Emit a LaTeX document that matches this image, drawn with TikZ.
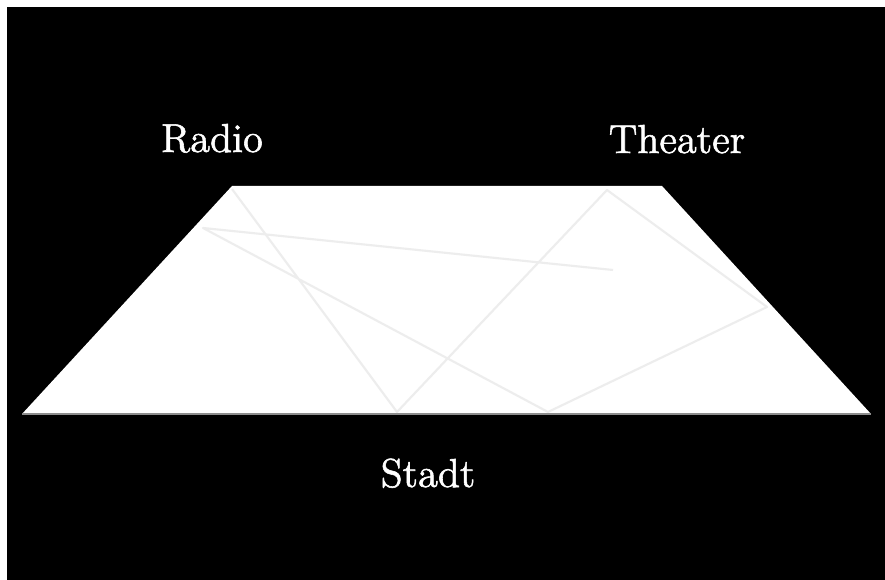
\documentclass[tikz,border=0pt]{standalone}
\usepackage{fontspec}
\usepackage{tikz}
\newfontfamily\placefont{Latin Modern Roman}[FakeBold=1.4]

\begin{document}
\begin{tikzpicture}[
    x=0.01cm, y=-0.01cm,
    place/.style={text=white, font=\placefont\fontsize{11.5}{13}\selectfont, inner sep=0pt, anchor=base},
    field/.style={fill=white},
    edge/.style={draw=black!45, line width=0.5pt},
    trace/.style={draw=black!7, line width=0.6pt, line join=round}
]

% Frame
\useasboundingbox (0,0) rectangle (885,580);
\fill[white] (0,0) rectangle (885,580);
\fill[black] (7,7) rectangle (885,580);

% Field corners
\coordinate (tl) at (232,186);
\coordinate (tr) at (662,186);
\coordinate (br) at (871,414);
\coordinate (bl) at (22,414);

% Field
\path[field] (tl) -- (tr) -- (br) -- (bl) -- cycle;
\draw[edge] (bl) -- (br);

% Trace points
\coordinate (p1) at (613,270);
\coordinate (p2) at (203,228);
\coordinate (p3) at (548,412);
\coordinate (p4) at (767,307);
\coordinate (p5) at (607,190);
\coordinate (p6) at (397,412);
\coordinate (p7) at (232,189);

% Trace
\draw[trace] (p1) -- (p2) -- (p3) -- (p4) -- (p5) -- (p6) -- (p7);

% Labels
\node[place] (radio) at (212,152) {Radio};
\node[place] (theater) at (677,153) {Theater};
\node[place] (stadt) at (428,487) {Stadt};

\end{tikzpicture}
\end{document}
